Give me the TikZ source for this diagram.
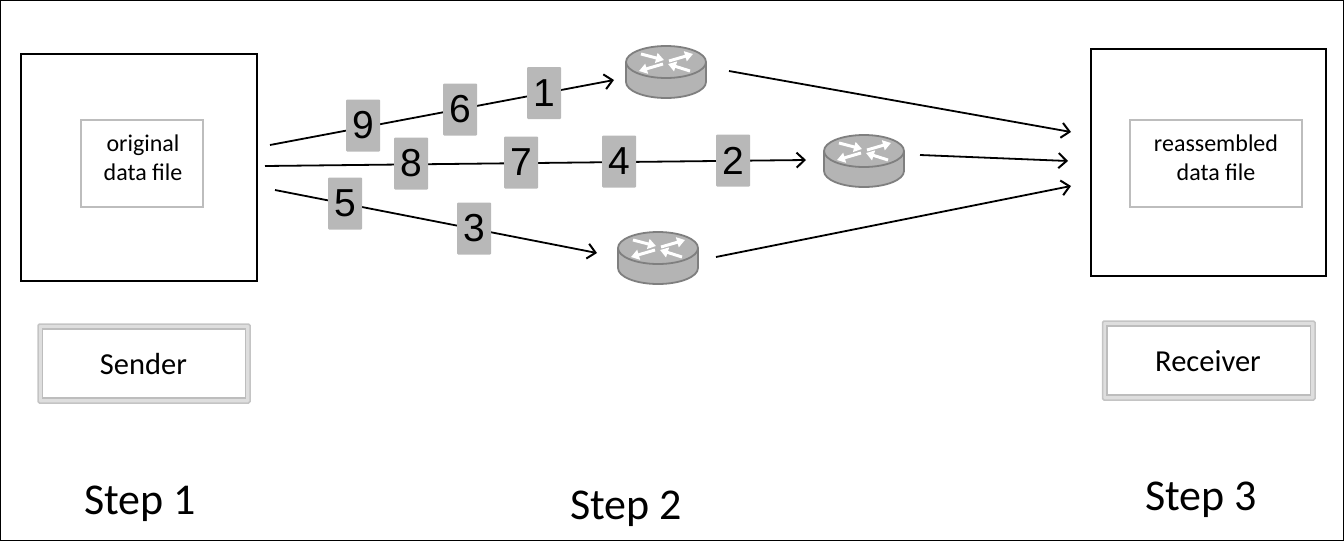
\documentclass[tikz,border=0pt]{standalone}
\usepackage{fontspec}
\setmainfont{Carlito}
\newfontfamily\numfont{Liberation Sans}
\usetikzlibrary{arrows.meta}
\definecolor{pktgray}{HTML}{B8B8B8}
\definecolor{rtfill}{HTML}{B4B4B4}
\definecolor{rtline}{HTML}{7F7F7F}
\definecolor{boxgray}{HTML}{BDBDBD}
\definecolor{boxlight}{HTML}{C4C4C4}
\definecolor{framefill}{HTML}{DEDEDE}
\tikzset{
  x=1pt,y=-1pt,
  hostbox/.style={draw=black,line width=2pt,fill=none},
  pkt/.style={fill=pktgray,rounded corners=1pt,minimum width=34pt,minimum height=52pt,inner sep=0pt,font=\numfont\fontsize{39}{39}\selectfont,text=black},
  wire/.style={draw=black,line width=1.8pt},
  flow/.style={wire,-{Straight Barb[length=8pt,width=15pt,line width=2pt]}},
  filebox/.style={draw=boxgray,line width=1.2pt},
  outerframe/.style={draw=boxlight,fill=framefill,line width=1.5pt,rounded corners=1.5pt},
  innerframe/.style={draw=boxgray,fill=white,line width=1.2pt},
  filetext/.style={font=\fontsize{24}{29}\selectfont,align=center,text=black},
  roletext/.style={font=\fontsize{30.5}{34}\selectfont,text=black},
  steptext/.style={font=\fontsize{44}{48}\selectfont,text=black},
  rtarrow/.style={draw=white,line width=3pt,-{Triangle[length=8pt,width=10pt]}},
  router/.pic={
    \path[fill=rtfill,draw=rtline,line width=1.8pt]
      (-40,0) -- (-40,20) arc[start angle=180,end angle=360,x radius=40,y radius=-16] -- (40,0)
      arc[start angle=0,end angle=180,x radius=40,y radius=-16] -- cycle;
    \path[draw=rtline,line width=1.8pt] (-40,0) arc[start angle=180,end angle=360,x radius=40,y radius=-16];
    \draw[rtarrow] (-25,-8) -- (-2,-2);
    \draw[rtarrow] (3,-1) -- (27,-8);
    \draw[rtarrow] (-3,2) -- (-27,9);
    \draw[rtarrow] (24,9) -- (2,2);
  }
}
\begin{document}
\begin{tikzpicture}
\useasboundingbox (0,0) rectangle (1344,541);
\draw[black,line width=1.5pt] (0.7,0.7) rectangle (1343.3,540.3);

% hosts
\node[hostbox,minimum width=236pt,minimum height=227pt,inner sep=0pt] (sender) at (139,167.5) {};
\node[hostbox,minimum width=235pt,minimum height=227pt,inner sep=0pt] (receiver) at (1208.5,162.5) {};
\node[filebox,minimum width=122pt,minimum height=87pt,inner sep=0pt] (srcfile) at (142,163.5) {};
\node[filebox,minimum width=172pt,minimum height=87pt,inner sep=0pt] (dstfile) at (1216,163.5) {};
\node[filetext] at (143,157.5) {original\\data file};
\node[filetext] at (1216,157.5) {reassembled\\data file};

% role frames
\draw[outerframe] (38,324) rectangle (250,403);
\draw[innerframe] (42.5,329) rectangle (245.5,398);
\node[roletext] (sendername) at (143.5,364) {Sender};
\draw[outerframe] (1102.5,321) rectangle (1315,400);
\draw[innerframe] (1107,326) rectangle (1310.5,395);
\node[roletext] (receivername) at (1208,361) {Receiver};

% connector ends
\coordinate (a1) at (270,145);
\coordinate (a2) at (614,80);
\coordinate (b1) at (265,166);
\coordinate (b2) at (806,160);
\coordinate (c1) at (275,190);
\coordinate (c2) at (597,253);
\coordinate (d1) at (729,71);
\coordinate (d2) at (1071,132);
\coordinate (e1) at (920,155);
\coordinate (e2) at (1068,161);
\coordinate (f1) at (716,257);
\coordinate (f2) at (1071,186);

\draw[flow] (a1) -- (a2);
\draw[flow] (b1) -- (b2);
\draw[flow] (c1) -- (c2);
\draw[flow] (d1) -- (d2);
\draw[flow] (e1) -- (e2);
\draw[flow] (f1) -- (f2);

% routers
\pic (r1) at (666,62) {router};
\pic (r2) at (864,151) {router};
\pic (r3) at (658,248) {router};

% packets
\node[pkt] (p9) at (363,125.5) {9};
\node[pkt] (p6) at (460,109.5) {6};
\node[pkt] (p1) at (544,93) {1};
\node[pkt] (p8) at (411,163.5) {8};
\node[pkt] (p7) at (521,162.5) {7};
\node[pkt] (p4) at (619,161.5) {4};
\node[pkt] (p2) at (733,160.5) {2};
\node[pkt] (p5) at (345,203.5) {5};
\node[pkt] (p3) at (474,228.5) {3};

% steps
\node[steptext] (s1) at (140,504) {Step 1};
\node[steptext] (s2) at (626,509) {Step 2};
\node[steptext] (s3) at (1201,500) {Step 3};
\end{tikzpicture}
\end{document}
